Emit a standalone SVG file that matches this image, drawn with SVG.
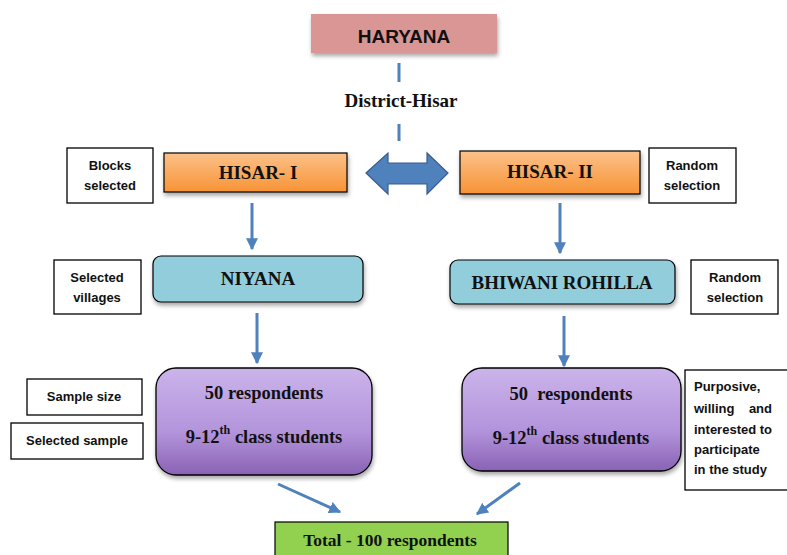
<svg xmlns="http://www.w3.org/2000/svg" width="787" height="555" viewBox="0 0 787 555">
<defs>
<linearGradient id="gOr" x1="0" y1="0" x2="0" y2="1"><stop offset="0" stop-color="#fcc18a"/><stop offset="1" stop-color="#f79335"/></linearGradient>
<linearGradient id="gPu" x1="0" y1="0" x2="0" y2="1"><stop offset="0" stop-color="#cbb3ea"/><stop offset="0.6" stop-color="#b394dc"/><stop offset="1" stop-color="#8a62b4"/></linearGradient>
<filter id="sh" x="-10%" y="-10%" width="130%" height="140%"><feDropShadow dx="1" dy="3" stdDeviation="2" flood-color="#000" flood-opacity="0.35"/></filter>
<marker id="ah" viewBox="0 0 10 10" refX="9" refY="5" markerWidth="4" markerHeight="4" orient="auto" markerUnits="strokeWidth"><path d="M0,0 L10,5 L0,10 z" fill="#4f81bd"/></marker>
</defs>
<style>
.lbl{fill:#fff;stroke:#000;stroke-width:1.3}
.sans{font-family:"Liberation Sans",Arial,sans-serif;font-weight:bold;fill:#111}
.ser{font-family:"Liberation Serif","Times New Roman",serif;font-weight:bold;fill:#111}
.con{stroke:#4f81bd;stroke-width:3;fill:none}
</style>
<rect width="787" height="555" fill="#fff"/>

<g id="haryana"><rect x="311" y="14" width="186" height="39" fill="#d99694" filter="url(#sh)"/><text x="404" y="43" class="sans" font-size="19" text-anchor="middle">HARYANA</text></g>
<g id="district"><text x="401" y="107" class="ser" font-size="19" text-anchor="middle">District-Hisar</text></g>

<g id="blocks-label"><rect x="67" y="148" width="86" height="55" class="lbl"/><text x="110" y="170" class="sans" font-size="13" text-anchor="middle">Blocks</text><text x="110" y="190" class="sans" font-size="13" text-anchor="middle">selected</text></g>
<g id="hisar1"><rect x="164" y="153" width="183" height="39" fill="url(#gOr)" stroke="#000" stroke-width="1.2" filter="url(#sh)"/><text x="258" y="179" class="ser" font-size="19" text-anchor="middle">HISAR- I</text></g>
<g id="hisar2"><rect x="460" y="151" width="180" height="43" fill="url(#gOr)" stroke="#000" stroke-width="1.2" filter="url(#sh)"/><text x="550" y="178" class="ser" font-size="19" text-anchor="middle">HISAR- II</text></g>
<g id="random1"><rect x="649" y="148" width="87" height="55" class="lbl"/><text x="692" y="170" class="sans" font-size="13" text-anchor="middle">Random</text><text x="692" y="190" class="sans" font-size="13" text-anchor="middle">selection</text></g>

<g id="villages-label"><rect x="54" y="260" width="87" height="54" class="lbl"/><text x="97" y="282" class="sans" font-size="13" text-anchor="middle">Selected</text><text x="97" y="302" class="sans" font-size="13" text-anchor="middle">villages</text></g>
<g id="niyana"><rect x="153" y="256" width="210" height="46" rx="8" fill="#92cddc" stroke="#000" stroke-width="1.2" filter="url(#sh)"/><text x="258" y="285" class="ser" font-size="19" text-anchor="middle">NIYANA</text></g>
<g id="bhiwani"><rect x="450" y="260" width="225" height="44" rx="8" fill="#92cddc" stroke="#000" stroke-width="1.2" filter="url(#sh)"/><text x="562" y="289" class="ser" font-size="19" text-anchor="middle">BHIWANI ROHILLA</text></g>
<g id="random2"><rect x="691" y="260" width="87" height="54" class="lbl"/><text x="735" y="282" class="sans" font-size="13" text-anchor="middle">Random</text><text x="735" y="302" class="sans" font-size="13" text-anchor="middle">selection</text></g>

<g id="samplesize-label"><rect x="27" y="379" width="115" height="36" class="lbl"/><text x="84" y="401" class="sans" font-size="13" text-anchor="middle">Sample size</text></g>
<g id="selectedsample-label"><rect x="11" y="423" width="132" height="36" class="lbl"/><text x="77" y="445" class="sans" font-size="13" text-anchor="middle">Selected sample</text></g>
<g id="sample1"><rect x="156" y="368" width="216" height="107" rx="20" fill="url(#gPu)" stroke="#000" stroke-width="1.3" filter="url(#sh)"/><text x="264" y="399" class="ser" font-size="18.5" text-anchor="middle">50 respondents</text><text x="264" y="443" class="ser" font-size="18.5" text-anchor="middle">9-12<tspan font-size="12" dy="-9">th</tspan><tspan dy="9"> class students</tspan></text></g>
<g id="sample2"><rect x="462" y="368" width="219" height="103" rx="20" fill="url(#gPu)" stroke="#000" stroke-width="1.3" filter="url(#sh)"/><text x="571" y="400" class="ser" font-size="18.5" text-anchor="middle" xml:space="preserve">50  respondents</text><text x="571" y="444" class="ser" font-size="18.5" text-anchor="middle">9-12<tspan font-size="12" dy="-9">th</tspan><tspan dy="9"> class students</tspan></text></g>
<g id="purposive-label"><rect x="685" y="370" width="104" height="120" class="lbl"/><text class="sans" font-size="13" xml:space="preserve"><tspan x="694" y="391">Purposive,</tspan><tspan x="694" y="413">willing    and</tspan><tspan x="694" y="434">interested to</tspan><tspan x="694" y="454">participate</tspan><tspan x="694" y="474">in the study</tspan></text></g>

<g id="total"><rect x="275" y="522" width="233" height="40" fill="#92d050" stroke="#000" stroke-width="1.2"/><text x="390" y="546" class="ser" font-size="17.5" text-anchor="middle">Total - 100 respondents</text></g>

<g id="connectors">
<line x1="399" y1="63" x2="399" y2="82" class="con"/>
<line x1="399" y1="124" x2="399" y2="141" class="con"/>
<path d="M366,173 L388,153 L388,163 L427,163 L427,153 L448,173 L427,194 L427,184 L388,184 L388,194 Z" fill="#4f81bd" stroke="#385d8a" stroke-width="1.2"/>
<line x1="252" y1="203" x2="252" y2="249" class="con" marker-end="url(#ah)"/>
<line x1="560" y1="203" x2="560" y2="253" class="con" marker-end="url(#ah)"/>
<line x1="257" y1="313" x2="257" y2="363" class="con" marker-end="url(#ah)"/>
<line x1="564" y1="316" x2="564" y2="366" class="con" marker-end="url(#ah)"/>
<line x1="278" y1="484" x2="340" y2="512" class="con" marker-end="url(#ah)"/>
<line x1="520" y1="483" x2="477" y2="514" class="con" marker-end="url(#ah)"/>
</g>
</svg>
